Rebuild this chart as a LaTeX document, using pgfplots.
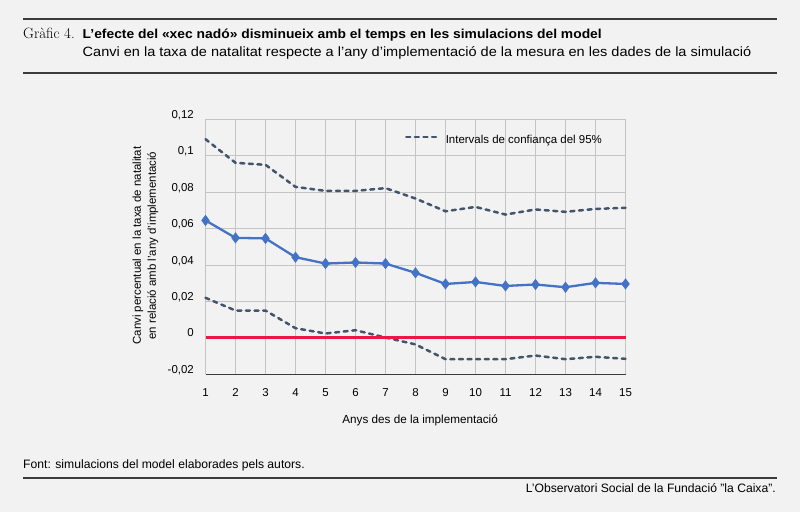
\documentclass[border=0pt]{standalone}
\usepackage{fontspec}
\setmainfont{Liberation Sans}
\newfontfamily\titlefont[FakeStretch=1.07]{Liberation Sans}
\newfontfamily\subfont[FakeStretch=1.08]{Liberation Sans}
\usepackage{pgfplots}
\pgfplotsset{compat=1.18}
\definecolor{bg}{HTML}{F2F2F2}
\definecolor{rulecol}{HTML}{3C3C3C}
\definecolor{gridcol}{HTML}{C4C4C4}
\definecolor{meancol}{HTML}{4472C4}
\definecolor{cicol}{HTML}{44546A}
\definecolor{zerocol}{HTML}{EB1744}

\pgfplotstableread{
x y
1 0.0645
2 0.0549
3 0.0546
4 0.0443
5 0.0408
6 0.0414
7 0.0408
8 0.0357
9 0.0296
10 0.0307
11 0.0285
12 0.0293
13 0.0278
14 0.0302
15 0.0296
}\meandata
\pgfplotstableread{
x y
1 0.1091
2 0.0961
3 0.0950
4 0.0829
5 0.0807
6 0.0807
7 0.0822
8 0.0765
9 0.0695
10 0.0719
11 0.0677
12 0.0705
13 0.0692
14 0.0708
15 0.0714
}\upperdata
\pgfplotstableread{
x y
1 0.0220
2 0.0150
3 0.0150
4 0.0053
5 0.0024
6 0.0042
7 0.0002
8 -0.0036
9 -0.0117
10 -0.0117
11 -0.0117
12 -0.0097
13 -0.0117
14 -0.0104
15 -0.0115
}\lowerdata

\begin{document}
\begin{tikzpicture}
\fill[bg] (0,0) rectangle (800bp,512bp);
\draw[rulecol, line width=1.8bp] (23bp,493bp) -- (777bp,493bp);
\draw[rulecol, line width=1.8bp] (23bp,439.3bp) -- (777bp,439.3bp);
\draw[rulecol, line width=1.8bp] (23bp,33.7bp) -- (777bp,33.7bp);
\node[anchor=base west, inner sep=0pt] at (23bp,473.7bp)
  {\fontfamily{lmr}\fontsize{15}{17}\selectfont Gr\`afic 4.};
\node[anchor=base west, inner sep=0pt] at (82.5bp,473.7bp)
  {\titlefont\bfseries\fontsize{13}{15}\selectfont L’efecte del «xec nadó» disminueix amb el temps en les simulacions del model};
\node[anchor=base west, inner sep=0pt] at (82.5bp,455.3bp)
  {\subfont\fontsize{13.5}{15}\selectfont Canvi en la taxa de natalitat respecte a l’any d’implementació de la mesura en les dades de la simulació};
\node[anchor=base west, inner sep=0pt] at (23bp,43.5bp)
  {\fontsize{12.2}{14}\selectfont Font: simulacions del model elaborades pels autors.};
\node[anchor=base east, inner sep=0pt] at (776bp,19.3bp)
  {\fontsize{12.2}{14}\selectfont L’Observatori Social de la Fundació "la Caixa".};

\begin{axis}[
  at={(205.5bp,137.7bp)}, anchor=south west,
  scale only axis, width=420bp, height=255bp,
  xmin=1, xmax=15, ymin=-0.02, ymax=0.12,
  xtick={1,2,3,4,5,6,7,8,9,10,11,12,13,14,15},
  xticklabels={1,2,3,4,5,6,7,8,9,10,11,12,13,14,15},
  ytick={-0.02,0,0.02,0.04,0.06,0.08,0.1,0.12},
  yticklabels={{-0,02},0,{0,02},{0,04},{0,06},{0,08},{0,1},{0,12}},
  scaled y ticks=false, scaled x ticks=false,
  clip=false,
  axis x line*=bottom, axis y line*=left,
  x axis line style={-, draw=rulecol, line width=1bp},
  y axis line style={draw=none},
  grid=major,
  major grid style={draw=gridcol, line width=0.8bp},
  major tick length=0pt,
  tick label style={font=\fontsize{11.5}{13}\selectfont},
  xticklabel style={anchor=north, inner sep=0pt, yshift=-13.8bp},
  yticklabel style={anchor=base east, inner sep=0pt, xshift=-11.5bp, yshift=1bp},
  xlabel={Anys des de la implementació},
  xlabel style={at={(axis description cs:0.511,-0.193)}, anchor=base, inner sep=0pt, font=\fontsize{11.75}{13}\selectfont},
  ylabel={Canvi percentual en la taxa de natalitat\\en relació amb l’any d’implementació},
  ylabel style={at={(axis description cs:-0.1429,0.505)}, anchor=center, align=center, inner sep=0pt, font=\fontsize{11.5}{15}\selectfont},
  legend style={at={(0.475,0.917)}, anchor=west, draw=none, fill=none, inner sep=0pt, outer sep=0pt,
    nodes={inner sep=0pt}, font=\fontsize{11.5}{13}\selectfont,
    /tikz/every odd column/.append style={column sep=5.7bp}},
  legend cell align=left,
  legend image code/.code={\draw[#1] (1.2bp,3.6bp) -- (33.8bp,3.6bp);},
]
\addplot[cicol, line width=2.5bp, line cap=round, dash pattern=on 4bp off 4.6bp, no markers] table {\upperdata};
\addlegendentry{Intervals de confiança del 95\%}
\addplot[cicol, line width=2.5bp, line cap=round, dash pattern=on 4bp off 4.6bp, no markers, forget plot] table {\lowerdata};
\addplot[zerocol, line width=3bp, no markers, forget plot] coordinates {(1,0) (15,0)};
\addplot[meancol, line width=2.3bp, mark=diamond*, mark size=5.2bp, mark options={solid, fill=meancol, line width=0.5bp}, forget plot] table {\meandata};
\end{axis}
\end{tikzpicture}
\end{document}
